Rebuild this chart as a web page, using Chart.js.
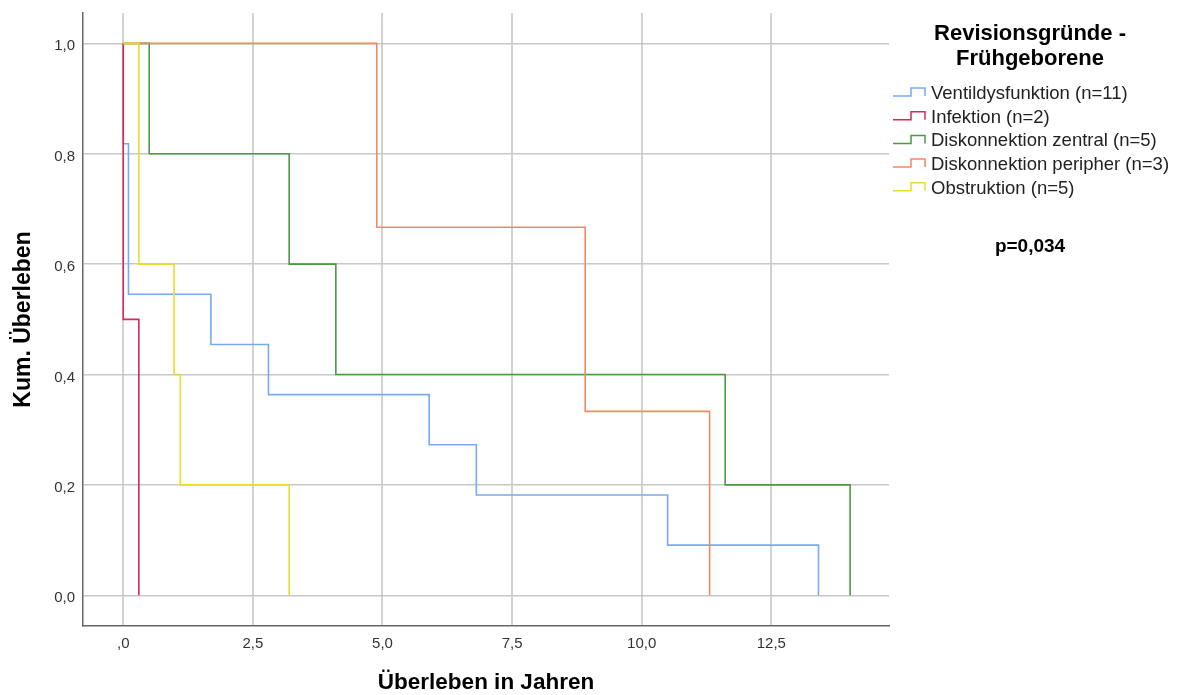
<!DOCTYPE html>
<html>
<head>
<meta charset="utf-8">
<script src="https://cdn.jsdelivr.net/npm/chart.js@4.4.1/dist/chart.umd.min.js"></script>
<style>
  html, body { margin: 0; padding: 0; background: #ffffff; }
  canvas { display: block; }
</style>
</head>
<body>
<canvas id="km" width="1177" height="695"></canvas>
<script>
// Kaplan-Meier survival steps per revision reason (time in years, cumulative survival)
const ventilTime   = [0, 0, 0.10, 1.69, 2.80, 5.90, 6.81, 10.50, 13.41];
const ventilSurv   = [1, 0.8182, 0.5455, 0.4545, 0.3636, 0.2727, 0.1818, 0.0909, 0];
const infektTime   = [0, 0, 0.30];
const infektSurv   = [1, 0.5, 0];
const zentralTime  = [0, 0.50, 3.20, 4.10, 11.61, 14.02];
const zentralSurv  = [1, 0.8, 0.6, 0.4, 0.2, 0];
const periphTime   = [0, 4.89, 8.91, 11.31];
const periphSurv   = [1, 0.6667, 0.3333, 0];
const obstrTime    = [0, 0.30, 0.98, 1.10, 3.20];
const obstrSurv    = [1, 0.6, 0.4, 0.2, 0];

const seriesNames  = ['Ventildysfunktion (n=11)', 'Infektion (n=2)', 'Diskonnektion zentral (n=5)',
                      'Diskonnektion peripher (n=3)', 'Obstruktion (n=5)'];
const seriesColors = ['#78aaf0', '#d8285a', '#4a9a45', '#f4895f', '#e8dc30'];

const xTicks      = [0, 2.5, 5, 7.5, 10, 12.5];
const xTickLabels = [',0', '2,5', '5,0', '7,5', '10,0', '12,5'];
const yTicks      = [0, 0.2, 0.4, 0.6, 0.8, 1.0];
const yTickLabels = ['0,0', '0,2', '0,4', '0,6', '0,8', '1,0'];

const legendTitle = ['Revisionsgründe -', 'Frühgeborene'];
const pValueText  = 'p=0,034';

const FONT = '"Liberation Sans", Arial, sans-serif';

const toPoints = (t, s) => t.map((x, i) => ({ x: x, y: s[i] }));
const curves = [
  toPoints(ventilTime, ventilSurv),
  toPoints(infektTime, infektSurv),
  toPoints(zentralTime, zentralSurv),
  toPoints(periphTime, periphSurv),
  toPoints(obstrTime, obstrSurv)
];

// survival holds its level until the next event, then drops
const datasets = curves.map((pts, i) => ({
  label: seriesNames[i],
  data: pts,
  borderColor: seriesColors[i],
  backgroundColor: seriesColors[i],
  borderWidth: 1.6,
  stepped: 'before',
  pointRadius: 0,
  fill: false,
  order: curves.length - i   // later groups sit on top
}));

// Legend block with step-shaped swatches, plus the test result
const sideLegend = {
  id: 'sideLegend',
  afterDraw(chart) {
    const ctx = chart.ctx;
    ctx.save();
    ctx.fillStyle = '#000';
    ctx.textAlign = 'center';
    ctx.textBaseline = 'middle';
    ctx.font = 'bold 22px ' + FONT;
    ctx.fillText(legendTitle[0], 1030, 34);
    ctx.fillText(legendTitle[1], 1030, 59);

    ctx.textAlign = 'left';
    ctx.font = '18.5px ' + FONT;
    seriesNames.forEach((name, i) => {
      const cy = 93 + i * 23.7;
      ctx.strokeStyle = seriesColors[i];
      ctx.lineWidth = 1.5;
      ctx.beginPath();
      ctx.moveTo(893, cy + 3);
      ctx.lineTo(911, cy + 3);
      ctx.lineTo(911, cy - 5);
      ctx.lineTo(925, cy - 5);
      ctx.lineTo(925, cy + 3);
      ctx.stroke();
      ctx.fillStyle = '#222';
      ctx.fillText(name, 931, cy + 1);
    });

    ctx.textAlign = 'center';
    ctx.fillStyle = '#000';
    ctx.font = 'bold 19px ' + FONT;
    ctx.fillText(pValueText, 1030, 247);
    ctx.restore();
  }
};

new Chart(document.getElementById('km'), {
  type: 'line',
  data: { datasets: datasets },
  options: {
    responsive: false,
    animation: false,
    devicePixelRatio: 1,
    layout: { padding: { top: 13, right: 288, left: 0, bottom: 0 } },
    plugins: { legend: { display: false }, tooltip: { enabled: false } },
    scales: {
      x: {
        type: 'linear',
        min: -0.777,
        max: 14.77,
        afterBuildTicks: s => { s.ticks = xTicks.map(v => ({ value: v })); },
        afterFit: s => { s.height = 69; s.paddingLeft = 0; s.paddingRight = 0; },
        ticks: {
          padding: 9,
          color: '#333',
          font: { family: FONT, size: 15 },
          maxRotation: 0,
          autoSkip: false,
          callback: (v, i) => xTickLabels[i]
        },
        grid: { color: '#d2d2d2', lineWidth: 2, drawTicks: false },
        border: { display: true, color: '#666', width: 1.5 },
        title: {
          display: true,
          text: 'Überleben in Jahren',
          color: '#000',
          font: { family: FONT, size: 22.5, weight: 'bold', lineHeight: 1 },
          padding: { top: 0, bottom: 1 }
        }
      },
      y: {
        type: 'linear',
        min: -0.0556,
        max: 1.055,
        afterBuildTicks: s => { s.ticks = yTicks.map(v => ({ value: v })); },
        afterFit: s => { s.width = 83; s.paddingTop = 0; s.paddingBottom = 0; },
        ticks: {
          padding: 8,
          labelOffset: 3,
          color: '#333',
          font: { family: FONT, size: 15 },
          callback: (v, i) => yTickLabels[i]
        },
        grid: { color: '#c8c8c8', lineWidth: 1.5, drawTicks: false },
        border: { display: true, color: '#666', width: 1.5 },
        title: {
          display: true,
          text: 'Kum. Überleben',
          color: '#000',
          font: { family: FONT, size: 23, weight: 'bold', lineHeight: 1 },
          padding: { top: 12, bottom: 0 }
        }
      }
    }
  },
  plugins: [sideLegend]
});
</script>
</body>
</html>
